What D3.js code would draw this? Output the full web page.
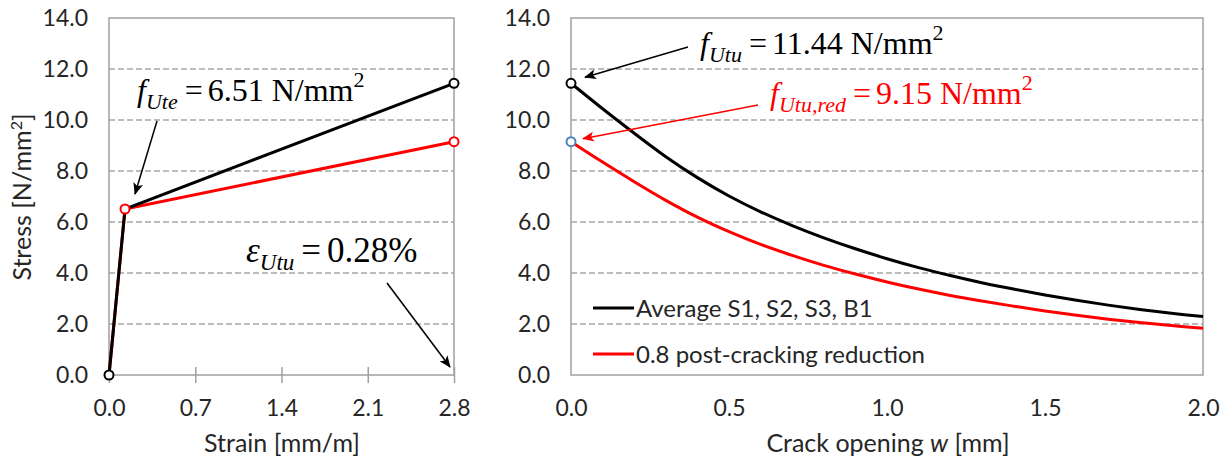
<!DOCTYPE html>
<html>
<head>
<meta charset="utf-8">
<script src="https://cdn.jsdelivr.net/npm/d3@7/dist/d3.min.js"></script>
<style>
  html, body { margin: 0; padding: 0; background: #fff; }
  svg { display: block; }
  .serif { font-family: "Liberation Serif", "DejaVu Serif", serif; }
</style>
</head>
<body>
<svg id="chart" width="1230" height="465"></svg>
<script>
// ---- data ----
// Tension stress-strain model (left panel)
const strain = [0, 0.13, 2.8];                 // mm/m
const stressAverage = [0, 6.51, 11.44];        // N/mm2
const stressReduced = [0, 6.51, 9.15];         // N/mm2

// Post-cracking stress vs crack opening (right panel)
const crackOpening = [0, 0.1, 0.2, 0.3, 0.4, 0.5, 0.6, 0.7, 0.8, 0.9, 1.0,
                      1.1, 1.2, 1.3, 1.4, 1.5, 1.6, 1.7, 1.8, 1.9, 2.0];
const crackAverage = [11.44, 10.44, 9.48, 8.56, 7.74, 7.02, 6.40, 5.86, 5.38, 4.95, 4.56,
                      4.21, 3.90, 3.62, 3.37, 3.14, 2.93, 2.74, 2.57, 2.42, 2.29];
const crackReduced = [9.15, 8.35, 7.58, 6.85, 6.19, 5.62, 5.12, 4.69, 4.30, 3.96, 3.65,
                      3.37, 3.12, 2.90, 2.70, 2.51, 2.34, 2.19, 2.06, 1.94, 1.83];

const stressTicks = [0, 2, 4, 6, 8, 10, 12, 14];
const gridTicks = [2, 4, 6, 8, 10, 12];
const strainTicks = [0, 0.7, 1.4, 2.1, 2.8];
const crackTicks = [0, 0.5, 1.0, 1.5, 2.0];
const legendLabels = ["Average S1, S2, S3, B1", "0.8 post-cracking reduction"];
const seriesColors = ["#000000", "#ff0000"];

// ---- layout ----
const svg = d3.select("#chart");
const plotTop = 18, plotBottom = 375;
const xL = d3.scaleLinear().domain([0, 2.8]).range([109, 454]);
const xR = d3.scaleLinear().domain([0, 2.0]).range([571, 1203]);
const y = d3.scaleLinear().domain([0, 14]).range([plotBottom, plotTop]);
const sans = "Lato, 'Open Sans', sans-serif";
const textColor = "#262626";

const defs = svg.append("defs");
function arrowMarker(id, color) {
  defs.append("marker")
    .attr("id", id).attr("markerUnits", "userSpaceOnUse")
    .attr("viewBox", "0 0 12 10").attr("refX", 11).attr("refY", 5)
    .attr("markerWidth", 12).attr("markerHeight", 10).attr("orient", "auto")
    .append("path").attr("d", "M0,0 L12,5 L0,10 L3,5 z").attr("fill", color);
}
arrowMarker("arrowBlack", "#000");
arrowMarker("arrowRed", "#ff0000");

function panel(x, ticksX, showTickMarks) {
  const g = svg.append("g");
  // dashed gridlines
  g.selectAll("line.grid").data(gridTicks).join("line")
    .attr("class", "grid")
    .attr("x1", x.range()[0]).attr("x2", x.range()[1])
    .attr("y1", d => y(d)).attr("y2", d => y(d))
    .attr("stroke", "#a6a6a6").attr("stroke-width", 1.5)
    .attr("stroke-dasharray", "6,3");
  // frame
  g.append("rect")
    .attr("x", x.range()[0]).attr("y", plotTop)
    .attr("width", x.range()[1] - x.range()[0]).attr("height", plotBottom - plotTop)
    .attr("fill", "none").attr("stroke", "#a0a0a0").attr("stroke-width", 1.5);

  // y axis labels
  const ya = g.append("g").attr("transform", `translate(${x.range()[0]},0)`)
    .call(d3.axisLeft(y).tickValues(stressTicks).tickFormat(d3.format(".1f"))
      .tickSize(0).tickPadding(21));
  ya.select(".domain").remove();
  ya.selectAll("text").style("font-size", "23px")
    .style("font-family", sans).attr("fill", textColor);

  // x axis
  const xa = g.append("g").attr("transform", `translate(0,${plotBottom})`)
    .call(d3.axisBottom(x).tickValues(ticksX).tickFormat(d3.format(".1f"))
      .tickSizeInner(showTickMarks ? 8 : 0).tickSizeOuter(0)
      .tickPadding(showTickMarks ? 17 : 25));
  xa.select(".domain").remove();
  xa.selectAll(".tick line")
    .attr("y1", showTickMarks ? -8 : 0)
    .attr("stroke", "#a0a0a0").attr("stroke-width", 1.5);
  xa.selectAll("text").style("font-size", "23px")
    .style("font-family", sans).attr("fill", textColor);
  return g;
}

const gL = panel(xL, strainTicks, true);
const gR = panel(xR, crackTicks, false);

// ---- left panel lines ----
const lineL = d3.line().x(d => xL(d[0])).y(d => y(d[1]));
const ptsAvg = strain.map((s, i) => [s, stressAverage[i]]);
const ptsRed = strain.map((s, i) => [s, stressReduced[i]]);
gL.append("path").datum(ptsRed).attr("d", lineL)
  .attr("fill", "none").attr("stroke", seriesColors[1]).attr("stroke-width", 3);
gL.append("path").datum(ptsAvg).attr("d", lineL)
  .attr("fill", "none").attr("stroke", seriesColors[0]).attr("stroke-width", 3);

function marker(g, cx, cy, color) {
  g.append("circle").attr("cx", cx).attr("cy", cy).attr("r", 4.5)
    .attr("fill", "#fff").attr("stroke", color).attr("stroke-width", 2);
}
marker(gL, xL(strain[0]), y(stressAverage[0]), "#000");
marker(gL, xL(strain[1]), y(stressReduced[1]), "#ff0000");
marker(gL, xL(strain[2]), y(stressAverage[2]), "#000");
marker(gL, xL(strain[2]), y(stressReduced[2]), "#ff0000");

// ---- right panel curves ----
const lineR = d3.line().x(d => xR(d[0])).y(d => y(d[1])).curve(d3.curveCatmullRom);
gR.append("path").datum(crackOpening.map((w, i) => [w, crackReduced[i]])).attr("d", lineR)
  .attr("fill", "none").attr("stroke", seriesColors[1]).attr("stroke-width", 3);
gR.append("path").datum(crackOpening.map((w, i) => [w, crackAverage[i]])).attr("d", lineR)
  .attr("fill", "none").attr("stroke", seriesColors[0]).attr("stroke-width", 3);
marker(gR, xR(0), y(crackAverage[0]), "#000");
marker(gR, xR(0), y(crackReduced[0]), "#4f81bd");

// legend
legendLabels.forEach((lab, i) => {
  const ly = 308 + i * 46;
  gR.append("line").attr("x1", 593).attr("x2", 634).attr("y1", ly).attr("y2", ly)
    .attr("stroke", seriesColors[i]).attr("stroke-width", 3);
  gR.append("text").attr("x", 636).attr("y", ly).attr("dy", "0.36em")
    .style("font-family", sans).style("font-size", "24px")
    .attr("fill", textColor).text(lab);
});

// ---- axis titles ----
const yTitle = svg.append("text")
  .attr("transform", "translate(31,197) rotate(-90)")
  .attr("text-anchor", "middle")
  .style("font-family", sans).style("font-size", "25px").attr("fill", textColor);
yTitle.append("tspan").text("Stress [N/mm");
yTitle.append("tspan").attr("dy", -9).style("font-size", "16px").text("2");
yTitle.append("tspan").attr("dy", 9).text("]");

svg.append("text").attr("x", 282).attr("y", 452).attr("text-anchor", "middle")
  .style("font-family", sans).style("font-size", "25px").attr("fill", textColor)
  .text("Strain [mm/m]");

const xTitleR = svg.append("text").attr("x", 888).attr("y", 452).attr("text-anchor", "middle")
  .style("font-family", sans).style("font-size", "25px").attr("fill", textColor);
xTitleR.append("tspan").text("Crack opening ");
xTitleR.append("tspan").style("font-style", "italic").text("w");
xTitleR.append("tspan").text(" [mm]");

// ---- equation annotations ----
function equation(x0, y0, color, symbol, sub, rest) {
  const t = svg.append("text").attr("x", x0).attr("y", y0).attr("class", "serif")
    .attr("fill", color).style("font-size", "32px");
  t.append("tspan").style("font-style", "italic").text(symbol);
  t.append("tspan").attr("dy", 8).style("font-style", "italic").style("font-size", "22px").text(sub);
  t.append("tspan").attr("dy", -8).attr("dx", 7).text("=");
  t.append("tspan").attr("dx", 5).text(rest);
  t.append("tspan").attr("dy", -14).style("font-size", "22px").text("2");
  return t;
}
function arrow(x1, y1, x2, y2, color, id) {
  svg.append("line").attr("x1", x1).attr("y1", y1).attr("x2", x2).attr("y2", y2)
    .attr("stroke", color).attr("stroke-width", 1.5).attr("marker-end", `url(#${id})`);
}

// f_Ute
equation(137, 101, "#000", "f", "Ute", "6.51 N/mm");
arrow(157, 121, xL(strain[1]) + 10, y(stressAverage[1]) - 15, "#000", "arrowBlack");

// eps_Utu
const eps = svg.append("text").attr("x", 246).attr("y", 262).attr("class", "serif")
  .attr("fill", "#000").style("font-size", "35px");
eps.append("tspan").style("font-style", "italic").text("\u03B5");
eps.append("tspan").attr("dy", 8).style("font-style", "italic").style("font-size", "23px").text("Utu");
eps.append("tspan").attr("dy", -8).attr("dx", 7).text("=");
eps.append("tspan").attr("dx", 6).text("0.28%");
arrow(387, 283, xL(2.8) - 4, y(0) - 8, "#000", "arrowBlack");

// f_Utu
equation(700, 54, "#000", "f", "Utu", "11.44 N/mm");
arrow(688, 47, xR(0) + 14, y(crackAverage[0]) - 6, "#000", "arrowBlack");

// f_Utu,red
equation(770, 104, "#ff0000", "f", "Utu,red", "9.15 N/mm");
arrow(758, 105, xR(0) + 12, y(crackReduced[0]) - 3, "#ff0000", "arrowRed");
</script>
</body>
</html>
